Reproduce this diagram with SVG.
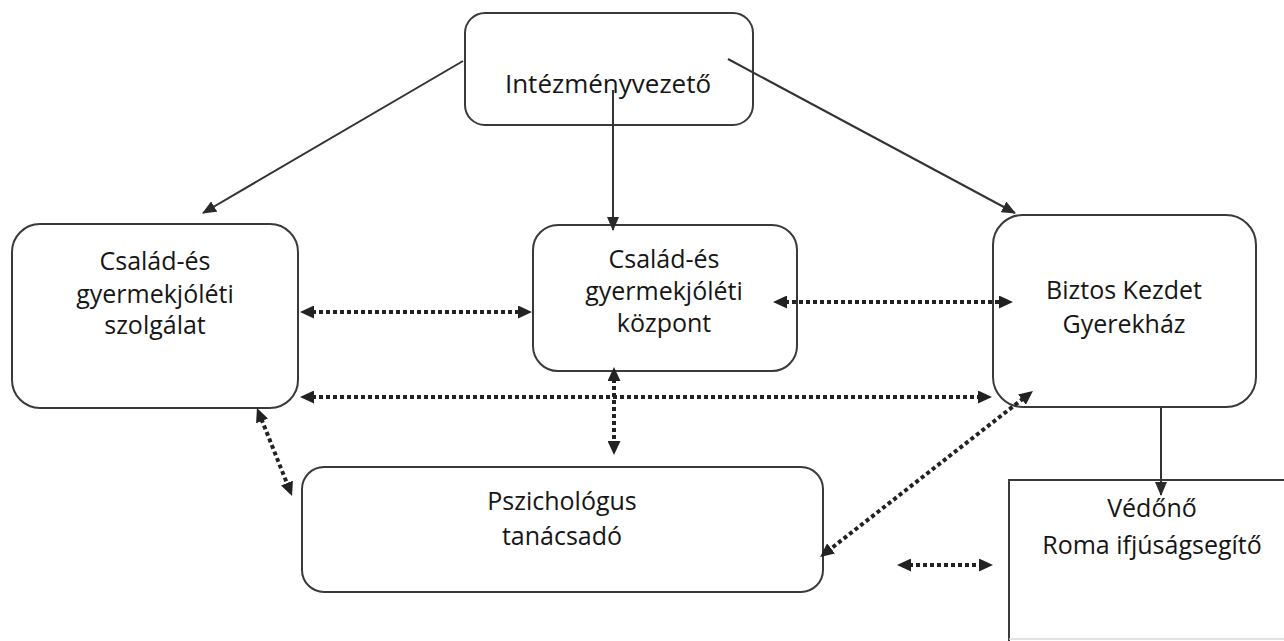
<svg xmlns="http://www.w3.org/2000/svg" width="1284" height="641" viewBox="0 0 1284 641">
<style>
  .box { fill: #ffffff; stroke: #3a3a3a; stroke-width: 2; }
  .lbl { font-family: "Open Sans", "Liberation Sans", sans-serif; font-size: 25px; fill: #161616; text-anchor: middle; }
  .solid { stroke: #333333; stroke-width: 2; fill: none; marker-end: url(#ahs); }
  .dot { stroke: #222222; stroke-width: 4; stroke-dasharray: 4 3; fill: none; marker-start: url(#ahd); marker-end: url(#ahd); }
</style>
<defs>
  <marker id="ahs" viewBox="0 0 14 12" refX="13" refY="6" markerWidth="14" markerHeight="12" markerUnits="userSpaceOnUse" orient="auto-start-reverse">
    <path d="M0,0 L14,6 L0,12 z" fill="#2a2a2a"/>
  </marker>
  <marker id="ahd" viewBox="0 0 14 13" refX="9" refY="6.5" markerWidth="14" markerHeight="13" markerUnits="userSpaceOnUse" orient="auto-start-reverse">
    <path d="M0,0 L14,6.5 L0,13 z" fill="#222222"/>
  </marker>
</defs>
<rect width="1284" height="641" fill="#ffffff"/>

<g id="intezmenyvezeto">
  <rect class="box" x="465" y="13" width="288" height="112" rx="20"/>
  <text class="lbl" x="608" y="93" style="font-size:26px">Intézményvezető</text>
</g>

<g id="szolgalat">
  <rect class="box" x="12" y="224" width="286" height="184" rx="28"/>
  <text class="lbl" x="155" y="270">Család-és</text>
  <text class="lbl" x="155" y="303">gyermekjóléti</text>
  <text class="lbl" x="155" y="334">szolgálat</text>
</g>

<g id="kozpont">
  <rect class="box" x="533" y="225" width="264" height="146" rx="25"/>
  <text class="lbl" x="664" y="268">Család-és</text>
  <text class="lbl" x="664" y="300">gyermekjóléti</text>
  <text class="lbl" x="664" y="332">központ</text>
</g>

<g id="biztos-kezdet">
  <rect class="box" x="993" y="215" width="263" height="192" rx="30"/>
  <text class="lbl" x="1124" y="299">Biztos Kezdet</text>
  <text class="lbl" x="1124" y="333">Gyerekház</text>
</g>

<g id="pszichologus">
  <rect class="box" x="302" y="467" width="521" height="125" rx="22"/>
  <text class="lbl" x="562" y="510">Pszichológus</text>
  <text class="lbl" x="562" y="545">tanácsadó</text>
</g>

<g id="vedono">
  <path d="M1009,641 L1009,480 L1284,480" fill="none" stroke="#3a3a3a" stroke-width="2"/>
  <line x1="1009" y1="639" x2="1284" y2="639" stroke="#d8d8d8" stroke-width="1.5"/>
  <text class="lbl" x="1152" y="517">Védőnő</text>
  <text class="lbl" x="1152" y="554">Roma ifjúságsegítő</text>
</g>

<g id="connectors">
  <line class="solid" x1="463" y1="61" x2="203" y2="213"/>
  <line class="solid" x1="613" y1="90" x2="613" y2="230"/>
  <line class="solid" x1="728" y1="59" x2="1015" y2="213"/>
  <line class="solid" x1="1161" y1="407" x2="1161" y2="495"/>

  <line class="dot" x1="305" y1="312" x2="527" y2="312"/>
  <line class="dot" x1="778" y1="302" x2="1008" y2="302"/>
  <line class="dot" x1="305" y1="397" x2="987" y2="397"/>
  <line class="dot" x1="614" y1="372" x2="614" y2="450"/>
  <line class="dot" x1="258.8" y1="412.6" x2="290.2" y2="491.4"/>
  <line class="dot" x1="1029" y1="394" x2="824" y2="554"/>
  <line class="dot" x1="902" y1="565" x2="988" y2="565"/>
</g>
</svg>
